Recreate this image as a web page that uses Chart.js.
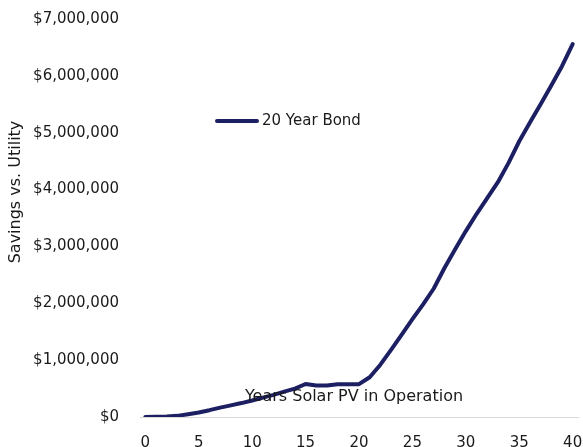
<!DOCTYPE html>
<html>
<head>
<meta charset="utf-8">
<script src="https://cdn.jsdelivr.net/npm/chart.js@4"></script>
<style>
html,body{margin:0;padding:0;background:#fff;overflow:hidden;}
</style>
</head>
<body>
<canvas id="c" width="583" height="447"></canvas>
<script>
const years = Array.from({length:41},(_,i)=>String(i));
const seriesLabel = "20 Year Bond";
const savings = [
  0, 5000, 10000, 20000, 50000, 80000, 120000, 165000, 205000, 245000,
  290000, 340000, 390000, 445000, 500000, 580000, 555000, 555000, 575000, 578000,
  578000, 700000, 920000, 1180000, 1450000, 1720000, 1980000, 2260000, 2620000, 2950000,
  3270000, 3570000, 3850000, 4130000, 4470000, 4850000, 5180000, 5500000, 5830000, 6170000,
  6560000
];
const yTickValues = [0,1000000,2000000,3000000,4000000,5000000,6000000,7000000];
const xTitle = "Years Solar PV in Operation";
const yTitle = "Savings vs. Utility";

const FONT = "'DejaVu Sans', sans-serif";
const TXT = "#1a1a1a";
const LINE = "#1c1f62";

const overlay = {
  id:'overlay',
  afterDatasetsDraw(chart){
    const ctx = chart.ctx;
    ctx.save();
    ctx.fillStyle = TXT;
    ctx.font = "16px " + FONT;
    ctx.textAlign = 'center';
    ctx.textBaseline = 'middle';
    ctx.fillText(xTitle, 354, 397);
    ctx.save();
    ctx.translate(16, 192);
    ctx.rotate(-Math.PI/2);
    ctx.fillText(yTitle, 0, 0);
    ctx.restore();
    // legend
    const ds = chart.data.datasets[0];
    ctx.font = "15px " + FONT;
    ctx.strokeStyle = ds.borderColor;
    ctx.lineWidth = 4;
    ctx.lineCap = 'round';
    ctx.beginPath();
    ctx.moveTo(217,121); ctx.lineTo(257,121);
    ctx.stroke();
    ctx.textAlign = 'left';
    ctx.fillText(ds.label, 262, 121);
    ctx.restore();
  }
};

new Chart(document.getElementById('c'), {
  type:'line',
  data:{labels:years, datasets:[{label:seriesLabel, data:savings, borderColor:LINE, backgroundColor:LINE, borderWidth:4, pointRadius:0, tension:0, borderCapStyle:'round', borderJoinStyle:'round'}]},
  options:{
    responsive:false, animation:false,
    layout:{padding:{top:19,right:5,left:0,bottom:0}},
    plugins:{legend:{display:false}, tooltip:{enabled:false}},
    scales:{
      x:{type:'category', offset:true,
        grid:{display:false, drawTicks:false},
        border:{display:true, color:'#d9d9d9', width:1},
        ticks:{autoSkip:false, maxRotation:0, padding:17, color:TXT, font:{family:FONT, size:15},
          callback:function(v){ const l=this.getLabelForValue(v); return (Number(l)%5===0)?l:''; }},
        afterFit(s){ s.height = 447-417; s.paddingLeft = 0; s.paddingRight = 0; }
      },
      y:{min:0, max:7000000,
        grid:{display:false, drawTicks:false},
        border:{display:false},
        afterBuildTicks(s){ s.ticks = yTickValues.map(v=>({value:v})); },
        ticks:{padding:21, color:TXT, font:{family:FONT, size:15},
          callback:v=>'$'+Number(v).toLocaleString('en-US')},
        afterFit(s){ s.width = 140; s.paddingTop = 0; s.paddingBottom = 0; }
      }
    }
  },
  plugins:[overlay]
});
</script>
</body>
</html>
